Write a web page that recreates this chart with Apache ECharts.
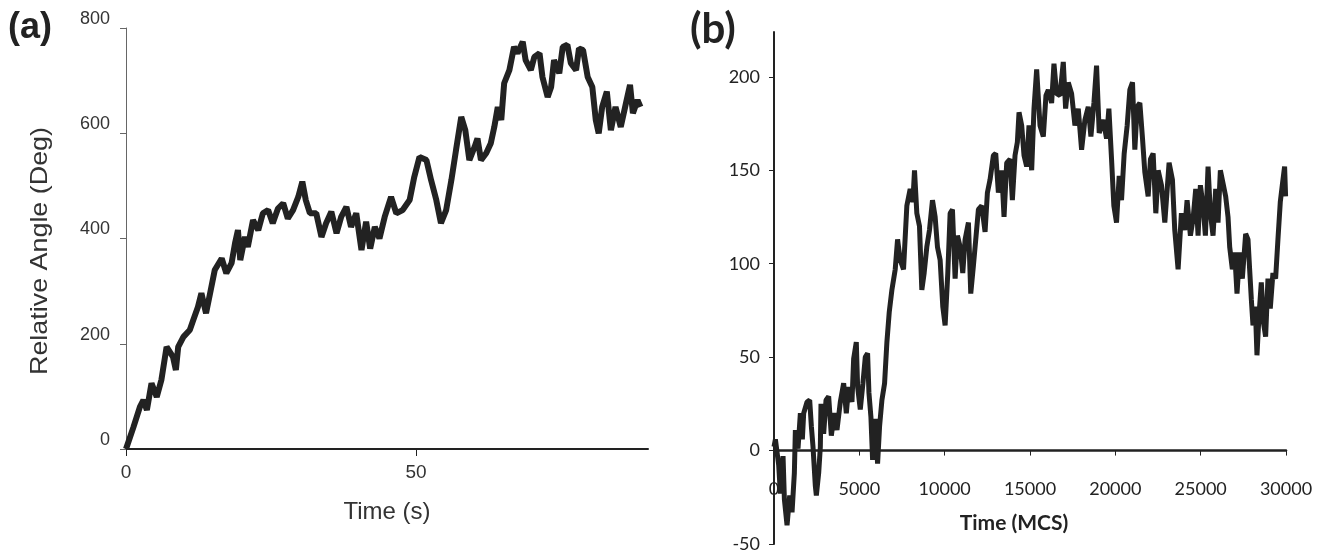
<!DOCTYPE html>
<html lang="en">
<head>
    <meta charset="UTF-8">
    <title>Relative angle vs time</title>
    <script src="https://cdn.jsdelivr.net/npm/echarts@6/dist/echarts.min.js"></script>
    <style>
        body { margin: 0; background: #fff; }
        #main { width: 1317px; height: 552px; }
    </style>
</head>
<body>
    <div id="main"></div>
    <script type="text/javascript">
        // panel (a): experiment, time in seconds
        var timeA = [0, 1.3, 2.4, 3.0, 3.6, 4.4, 5.3, 6.1, 7.0, 8.1, 8.6, 9.0, 9.9, 11.0, 11.6, 12.4, 13.0, 13.8, 14.5, 15.3,
            16.5, 17.3, 18.2, 18.8, 19.3, 19.7, 20.5, 21.0, 21.9, 22.8, 23.6, 24.5, 25.3, 26.2, 27.1, 27.9, 28.8, 29.7, 30.4, 31.0,
            31.7, 32.8, 33.7, 34.5, 35.4, 36.3, 37.1, 38.0, 38.8, 39.7, 40.6, 41.4, 42.1, 42.9, 43.7, 44.6, 45.7, 46.6, 47.7, 48.9,
            49.7, 50.6, 51.8, 52.6, 53.5, 54.3, 55.2, 56.1, 56.9, 57.8, 58.5, 59.2, 60.1, 60.6, 61.2, 62.1, 62.9, 63.5, 64.1, 64.7,
            65.2, 66.1, 66.9, 67.5, 68.4, 68.9, 69.8, 70.4, 71.3, 71.8, 72.7, 73.3, 73.8, 74.7, 75.3, 76.1, 76.7, 77.6, 78.1, 78.8,
            79.6, 80.4, 81.0, 81.5, 82.1, 82.9, 83.6, 84.4, 85.3, 86.2, 86.9, 87.4, 88.2, 88.7];
        var angleA = [0, 42, 80, 93, 74, 125, 99, 131, 194, 175, 150, 194, 213, 226, 245, 270, 296, 258, 296, 340,
            362, 334, 353, 391, 416, 359, 403, 384, 435, 416, 448, 454, 429, 457, 467, 438, 454, 479, 508, 473,
            448, 448, 403, 429, 451, 410, 441, 460, 422, 448, 378, 432, 381, 422, 400, 441, 479, 448, 454, 473,
            517, 555, 549, 511, 473, 429, 454, 511, 568, 631, 606, 549, 574, 590, 549, 562, 581, 612, 650, 625,
            695, 720, 764, 752, 774, 739, 720, 745, 752, 707, 669, 688, 739, 714, 764, 768, 733, 720, 761, 758,
            707, 688, 625, 600, 650, 679, 606, 650, 612, 657, 692, 638, 663, 650];

        // panel (b): simulation, time in Monte Carlo steps
        var timeB = [0, 82, 277, 374, 530, 608, 764, 920, 1057, 1193, 1252, 1408, 1545, 1662, 1740, 1935, 2091, 2189, 2286, 2423,
            2481, 2618, 2715, 2754, 2910, 3047, 3203, 3359, 3535, 3690, 3886, 4081, 4237, 4373, 4568, 4666, 4822, 4900, 5055, 5211,
            5348, 5484, 5562, 5679, 5777, 5933, 6069, 6186, 6323, 6479, 6615, 6752, 6908, 7103, 7240, 7394, 7589, 7784, 7979, 8135,
            8233, 8369, 8525, 8662, 8798, 8954, 9110, 9286, 9442, 9578, 9734, 9890, 10027, 10183, 10320, 10456, 10612, 10749, 10905, 11061,
            11197, 11392, 11529, 11685, 11841, 11977, 12172, 12367, 12504, 12660, 12855, 12991, 13147, 13342, 13479, 13635, 13830, 13967, 14123, 14259,
            14357, 14513, 14649, 14805, 14942, 15098, 15234, 15390, 15585, 15780, 15936, 16072, 16267, 16404, 16560, 16755, 16950, 17087, 17243, 17438,
            17633, 17828, 18023, 18218, 18413, 18569, 18745, 18900, 19056, 19290, 19485, 19622, 19778, 19914, 20070, 20226, 20363, 20519, 20694, 20850,
            21006, 21143, 21280, 21436, 21592, 21728, 21923, 22060, 22216, 22372, 22509, 22704, 22899, 23150, 23345, 23482, 23677, 23872, 24067, 24204,
            24399, 24555, 24711, 24848, 24984, 25140, 25277, 25433, 25569, 25725, 25881, 26018, 26154, 26310, 26466, 26603, 26700, 26856, 26993, 27129,
            27285, 27441, 27636, 27773, 27870, 27968, 28065, 28201, 28299, 28416, 28553, 28689, 28806, 28943, 29079, 29235, 29391, 29528, 29665, 29782,
            29918, 29977];
        var angleB = [2, 6, -8, -23, -3, -26, -40, -24, -33, -12, 11, 1, 20, 6, 20, 26, 27, 13, 2, -19,
            -24, -12, 2, 25, 9, 27, 29, 8, 20, 11, 26, 36, 20, 34, 26, 49, 58, 34, 22, 36,
            50, 52, 31, 18, -5, 17, -7, 13, 27, 36, 58, 74, 86, 97, 113, 102, 97, 131, 140, 133,
            150, 127, 120, 86, 95, 109, 118, 134, 125, 109, 102, 77, 67, 95, 127, 129, 92, 115, 109, 95,
            113, 122, 84, 99, 115, 129, 131, 117, 138, 145, 158, 159, 138, 150, 125, 154, 156, 134, 158, 165,
            181, 174, 158, 152, 174, 150, 183, 204, 174, 168, 190, 193, 186, 207, 191, 190, 208, 183, 197, 191,
            174, 183, 161, 177, 184, 168, 186, 206, 170, 177, 167, 183, 156, 131, 122, 147, 134, 159, 174, 193,
            197, 161, 184, 186, 167, 149, 136, 156, 159, 127, 150, 142, 122, 154, 145, 118, 97, 127, 118, 134,
            115, 124, 140, 115, 142, 131, 115, 152, 127, 115, 140, 122, 150, 143, 136, 125, 109, 97, 106, 84,
            106, 92, 116, 113, 97, 81, 67, 77, 51, 72, 90, 68, 61, 92, 76, 95, 92, 113, 133, 142,
            152, 136];

        var xTicksA = [0, 50];
        var yTicksB = [-50, 0, 50, 100, 150, 200];

        function zip(xs, ys) {
            var out = [];
            for (var i = 0; i < xs.length; i++) out.push([xs[i], ys[i]]);
            return out;
        }
        function plain(v) { return String(v); }

        var fontA = 'Liberation Sans, Arial, sans-serif';
        var fontB = 'Lato, Open Sans, sans-serif';

        var myChart = echarts.init(document.getElementById('main'));

        var option = {
            animation: false,
            backgroundColor: '#fff',
            grid: [
                { left: 126, top: 28, width: 522, height: 421, containLabel: false, outerBoundsMode: 'none' },
                { left: 774, top: 32, width: 512, height: 512, containLabel: false, outerBoundsMode: 'none' }
            ],
            xAxis: [
                {
                    gridIndex: 0, type: 'value', min: 0, max: 90,
                    name: 'Time (s)', nameLocation: 'middle', nameGap: 51,
                    nameTextStyle: { fontFamily: fontA, fontSize: 24, color: '#333' },
                    axisLine: { lineStyle: { color: '#222', width: 2 } },
                    axisTick: { length: 7, customValues: xTicksA, lineStyle: { color: '#222', width: 1 } },
                    axisLabel: { customValues: xTicksA, margin: 14, fontFamily: fontA, fontSize: 19, color: '#333' },
                    splitLine: { show: false }
                },
                {
                    gridIndex: 1, type: 'value', min: 0, max: 30000, interval: 5000,
                    axisLine: { onZero: true, lineStyle: { color: '#222', width: 2.5 } },
                    axisTick: { length: 5, lineStyle: { color: '#222', width: 1 } },
                    // v6 keeps the labels relative to the grid bottom, pull them up next to the zero line
                    axisLabel: { margin: -64, formatter: plain, fontFamily: fontB, fontSize: 18, color: '#222' },
                    splitLine: { show: false }
                }
            ],
            yAxis: [
                {
                    gridIndex: 0, type: 'value', min: 0, max: 800, interval: 200,
                    axisLine: { show: true, lineStyle: { color: '#666', width: 1 } },
                    axisTick: { show: true, length: 6, lineStyle: { color: '#666' } },
                    axisLabel: { margin: 16, verticalAlign: 'bottom', fontFamily: fontA, fontSize: 18, color: '#333' },
                    splitLine: { show: false }
                },
                {
                    gridIndex: 1, type: 'value', min: -50, max: 224,
                    axisLine: { show: true, onZero: false, lineStyle: { color: '#222', width: 2 } },
                    axisTick: { show: true, length: 5, customValues: yTicksB, lineStyle: { color: '#222' } },
                    axisLabel: { customValues: yTicksB, margin: 14, fontFamily: fontB, fontSize: 18, color: '#222' },
                    splitLine: { show: false }
                }
            ],
            series: [
                {
                    type: 'line', xAxisIndex: 0, yAxisIndex: 0,
                    data: zip(timeA, angleA),
                    showSymbol: false,
                    lineStyle: { color: '#222', width: 6 }
                },
                {
                    type: 'line', xAxisIndex: 1, yAxisIndex: 1,
                    data: zip(timeB, angleB),
                    showSymbol: false,
                    lineStyle: { color: '#222', width: 5 }
                }
            ],
            graphic: [
                { type: 'text', left: 8, top: 10, style: { text: '(a)', font: 'bold 36px Liberation Sans, Arial', fill: '#222' } },
                { type: 'text', left: 690, top: 8, style: { text: '(b)', font: 'bold 42px Lato, Open Sans', fill: '#222' } },
                {
                    type: 'text', x: 40, y: 251, rotation: Math.PI / 2, scaleX: 1.12,
                    style: { text: 'Relative Angle (Deg)', x: 0, y: 0, align: 'center', verticalAlign: 'middle',
                        font: '24px Liberation Sans, Arial', fill: '#333' }
                },
                {
                    type: 'text', x: 1014, y: 523,
                    style: { text: 'Time (MCS)', x: 0, y: 0, align: 'center', verticalAlign: 'middle',
                        font: 'bold 21px Lato, Open Sans', fill: '#222' }
                }
            ]
        };

        myChart.setOption(option);
    </script>
</body>
</html>
